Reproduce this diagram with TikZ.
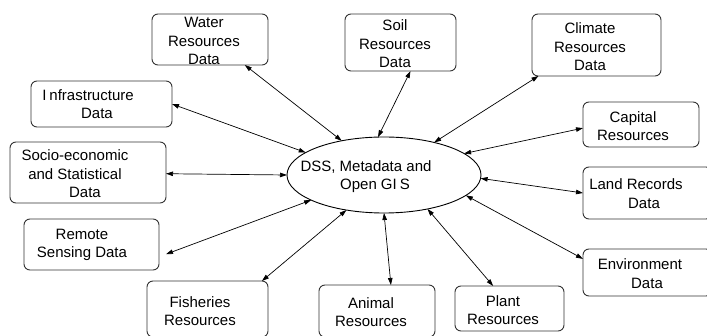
\documentclass[tikz,border=0pt]{standalone}
\usepackage{fontspec}
\setmainfont{Liberation Sans}
\usetikzlibrary{calc,arrows.meta,shapes.geometric}
\begin{document}
\begin{tikzpicture}[x=1pt,y=-1pt,
  box/.style={draw=black!80,line width=0.9pt,rounded corners=6pt,inner sep=0pt,outer sep=0pt},
  oval/.style={draw=black,line width=0.9pt,ellipse,inner sep=0pt,outer sep=0pt,minimum width=194pt,minimum height=76pt},
  txt/.style={align=center,inner sep=0pt,font=\fontsize{15}{18.5}\selectfont},
  link/.style={line width=0.7pt,{Triangle[length=7pt,width=4.5pt]}-{Triangle[length=7pt,width=4.5pt]}}]
\useasboundingbox[fill=white] (0,0) rectangle (707,336);
% central ellipse
\node[oval] (dss) at (384,175) {};
\node[txt] (dssT) at ([shift={(-18,1.5)}]dss.center) {DSS, Metadata and\\\hspace*{18pt}Open GI\kern3pt S};
% boxes
\node[box,minimum width=116pt,minimum height=51pt] (water) at (210,39.5) {};
\node[txt] (waterT) at ([shift={(-6,1.5)}]water.center) {Water\\Resources\\Data};
\node[box,minimum width=111pt,minimum height=57pt] (soil) at (400.5,42.5) {};
\node[txt] (soilT) at ([shift={(-5.5,1.5)}]soil.center) {Soil\\Resources\\Data};
\node[box,minimum width=129pt,minimum height=62pt] (climate) at (596.5,45) {};
\node[txt] (climateT) at ([shift={(-6.5,2)}]climate.center) {Climate\\Resources\\Data};
\node[box,minimum width=141pt,minimum height=46pt] (infra) at (101.5,104) {};
\node[txt] (infraT) at ([shift={(-13.5,0)}]infra.center) {I\kern3pt nfrastructure\\\hspace*{18pt}Data};
\node[box,minimum width=116pt,minimum height=45pt] (capital) at (641,124.5) {};
\node[txt] (capitalT) at ([shift={(-8,1.5)}]capital.center) {Capital\\Resources};
\node[box,minimum width=156pt,minimum height=61pt] (socio) at (88,172.5) {};
\node[txt] (socioT) at ([shift={(-13,1.5)}]socio.center) {Socio-economic\\and Statistical\\\hspace*{20pt}Data};
\node[box,minimum width=129pt,minimum height=52pt] (land) at (647.5,193) {};
\node[txt] (landT) at ([shift={(-11.5,0.5)}]land.center) {Land Records\\\hspace*{16pt}Data};
\node[box,minimum width=135pt,minimum height=51pt] (remote) at (91.5,244.5) {};
\node[txt] (remoteT) at ([shift={(-9.5,0.5)}]remote.center) {Remote\\Sensing Data};
\node[box,minimum width=129pt,minimum height=47pt] (env) at (647.5,272.5) {};
\node[txt] (envT) at ([shift={(-7.5,1)}]env.center) {Environment\\\hspace*{14pt}Data};
\node[box,minimum width=121pt,minimum height=56pt] (fish) at (207.5,309) {};
\node[txt] (fishT) at ([shift={(-7.5,2)}]fish.center) {Fisheries\\Resources};
\node[box,minimum width=116pt,minimum height=52pt] (animal) at (377,311) {};
\node[txt] (animalT) at ([shift={(-6,1)}]animal.center) {Animal\\Resources};
\node[box,minimum width=109pt,minimum height=45pt] (plant) at (509.5,308.5) {};
\node[txt] (plantT) at ([shift={(-6.5,1.5)}]plant.center) {Plant\\Resources};
% connectors
\draw[link] ($(water.south west)!0.80!(water.south east)$) -- (dss.141);
\draw[link] ($(soil.south west)!0.59!(soil.south east)$) -- (dss.99);
\draw[link] ($(climate.south west)!0.05!(climate.south east)$) -- (dss.33);
\draw[link] ($(capital.north west)!0.58!(capital.south west)$) -- (dss.15);
\draw[link] ($(land.north west)!0.5!(land.south west)$) -- (dss.-2);
\draw[link] ($(env.north west)!0.21!(env.south west)$) -- (dss.-14);
\draw[link] ($(plant.north west)!0.35!(plant.north east)$) -- (dss.-38);
\draw[link] ($(animal.north west)!0.62!(animal.north east)$) -- (dss.-90);
\draw[link] ($(fish.north west)!0.95!(fish.north east)$) -- (dss.-137);
\draw[link] ($(remote.north east)!0.69!(remote.south east)+(7,0)$) -- (dss.199);
\draw[link] ($(socio.north east)!0.52!(socio.south east)$) -- (dss.180);
\draw[link] ($(infra.north east)!0.5!(infra.south east)$) -- (dss.164);
\end{tikzpicture}
\end{document}
